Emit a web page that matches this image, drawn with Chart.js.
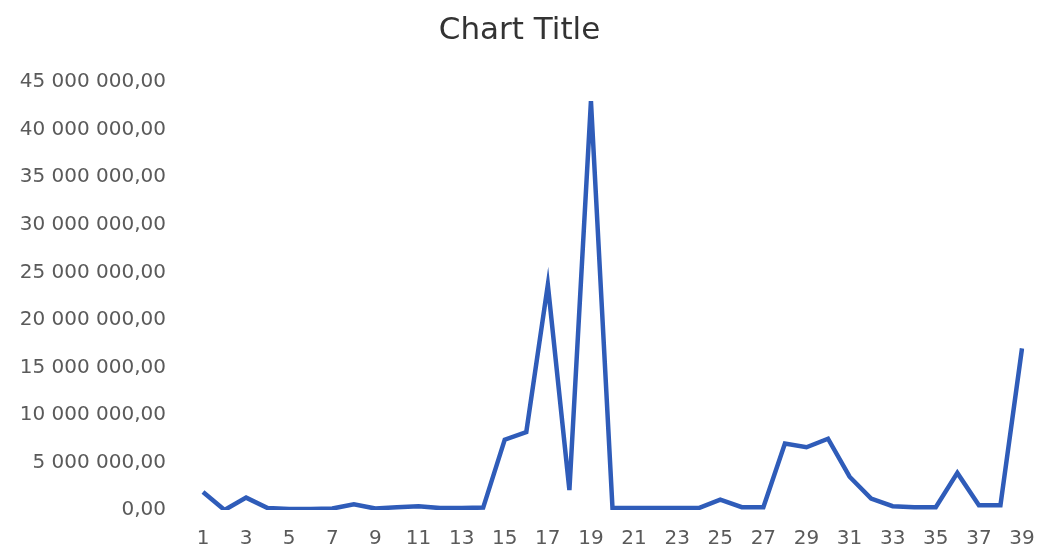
<!DOCTYPE html>
<html>
<head>
<meta charset="utf-8">
<script src="https://cdn.jsdelivr.net/npm/chart.js@4/dist/chart.umd.min.js"></script>
<style>
    html, body { margin: 0; padding: 0; background: #fff; }
    #wrap { width: 1039px; height: 546px; }
</style>
</head>
<body>
<div id="wrap"><canvas id="lineChart" width="1039" height="546"></canvas></div>
<script>
const labels = Array.from({ length: 39 }, (_, i) => String(i + 1));
const values = [
    1900000, 0, 1300000, 200000, 100000, 100000, 150000, 600000, 150000, 300000,
    400000, 200000, 200000, 250000, 7400000, 8200000, 23700000, 2100000, 43000000, 200000,
    200000, 200000, 200000, 200000, 1100000, 300000, 300000, 7000000, 6600000, 7500000,
    3500000, 1200000, 400000, 300000, 300000, 3900000, 500000, 500000, 17000000
];
const yMax = 45000000;
const yStep = 5000000;

function formatNumber(v) {
    const whole = Math.round(v).toString().replace(/\B(?=(\d{3})+(?!\d))/g, ' ');
    return whole + ',00';
}

const ctx = document.getElementById('lineChart').getContext('2d');
new Chart(ctx, {
    type: 'line',
    data: {
        labels: labels,
        datasets: [{
            data: values,
            borderColor: '#2f5cb9',
            borderWidth: 4.5,
            pointRadius: 0,
            tension: 0,
            fill: false
        }]
    },
    options: {
        responsive: false,
        animation: false,
        layout: { padding: 0 },
        plugins: {
            legend: { display: false },
            tooltip: { enabled: false },
            title: {
                display: true,
                text: 'Chart Title',
                color: '#333',
                font: { family: 'DejaVu Sans', size: 31, weight: 'normal' },
                padding: { top: 12, bottom: 33 }
            }
        },
        scales: {
            x: {
                offset: false,
                grid: { display: false, drawTicks: false },
                border: { display: false },
                ticks: {
                    autoSkip: false,
                    maxRotation: 0,
                    padding: 17,
                    color: '#5a5a5a',
                    font: { family: 'DejaVu Sans', size: 20 },
                    callback: (v, i) => i % 2 === 0 ? labels[i] : ''
                },
                // keep the plot area where the original has it
                afterFit: s => { s.height = 36; s.paddingRight = 17; s.paddingLeft = 0; }
            },
            y: {
                min: 0,
                max: yMax,
                grid: { display: false, drawTicks: false },
                border: { display: false },
                ticks: {
                    stepSize: yStep,
                    padding: 37,
                    color: '#5a5a5a',
                    font: { family: 'DejaVu Sans', size: 20 },
                    callback: v => formatNumber(v)
                },
                afterFit: s => { s.width = 203; s.paddingTop = 0; s.paddingBottom = 0; }
            }
        }
    }
});
</script>
</body>
</html>
